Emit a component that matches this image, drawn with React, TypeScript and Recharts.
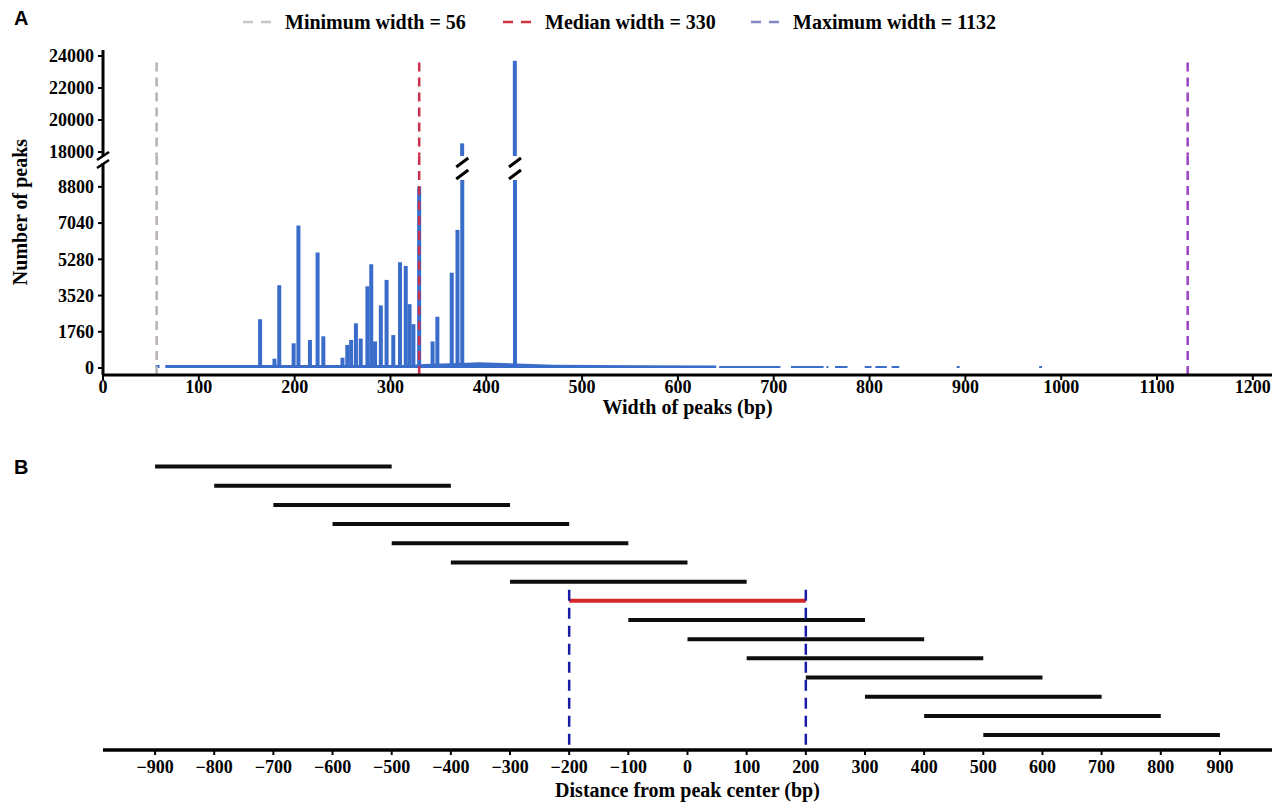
import { ComposedChart, Bar, Area, XAxis, YAxis, ReferenceLine, Cell } from 'recharts';

// ─── Data ─────────────────────────────────────────────────────────────────────

// Panel A: peak width histogram (bp → number of peaks)
const widthTicks = [0, 100, 200, 300, 400, 500, 600, 700, 800, 900, 1000, 1100, 1200];
const upperCountTicks = [18000, 20000, 22000, 24000];
const lowerCountTicks = [0, 1760, 3520, 5280, 7040, 8800];

const peakWidths = [164, 179, 184, 199, 204, 216, 224, 230, 250, 255, 259, 264, 269, 276, 280, 284, 290, 296, 303, 310, 316, 320, 324, 330, 344, 349, 364, 370, 375, 430];
const peakCounts = [2370, 450, 4020, 1200, 6920, 1360, 5610, 1540, 500, 1120, 1360, 2170, 1430, 3970, 5040, 1290, 3040, 4280, 1600, 5140, 4960, 3100, 2130, 8810, 1290, 2490, 4630, 6710, 18540, 23700];

// low "floor" of the histogram (null = no peaks of that width)
const baseWidths = [55, 59, 60, 65, 320, 335, 380, 392, 432, 470, 560, 640, 641, 643, 707, 709, 718, 752, 753, 755, 757, 759, 764, 777, 779, 795, 802, 804, 806, 818, 820, 823, 831, 833, 891, 894, 896, 977, 980];
const baseCounts = [150, 150, null, 140, 140, 200, 260, 280, 220, 160, 130, 120, null, 100, 100, null, 100, 100, null, 100, 100, null, 100, 100, null, 100, 100, null, 100, 100, null, 100, 100, null, 100, 100, null, 100, 100];

const markerNames = ['Minimum width = 56', 'Median width = 330', 'Maximum width = 1132'];
const markerWidths = [56, 330, 1132];
const markerLineColors = ['#b8b0b8', '#c8304c', '#9c42c2'];
const markerKeyColors = ['#c6c6c6', '#d0343f', '#8088c6'];

// Panel B: sliding windows around the peak center
const windowStarts = [-900, -800, -700, -600, -500, -400, -300, -200, -100, 0, 100, 200, 300, 400, 500];
const windowEnds = [-500, -400, -300, -200, -100, 0, 100, 200, 300, 400, 500, 600, 700, 800, 900];
const highlightedWindow = 7;
const distanceTicks = [-900, -800, -700, -600, -500, -400, -300, -200, -100, 0, 100, 200, 300, 400, 500, 600, 700, 800, 900];
const boundaryPositions = [-200, 200];

// ─── Styling ──────────────────────────────────────────────────────────────────

const FONT = "'Liberation Serif', 'Times New Roman', serif";
const SANS = "'Liberation Sans', Arial, sans-serif";
const BAR_BLUE = '#3a6cca';
const LOWER_PLOT_TOP = 156;
const LEGEND_LEFT = [243, 503, 751];

const tickStyle = { fill: '#000', fontSize: 18, fontWeight: 700, fontFamily: FONT };
const axisLineStyle = { stroke: '#000', strokeWidth: 3 };
const tickLineStyle = { stroke: '#000', strokeWidth: 2 };

const peakData = peakWidths.map((w, i) => ({ w, count: peakCounts[i] }));
const baseData = baseWidths.map((w, i) => ({ w, base: baseCounts[i] }));
const windowData = windowStarts.map((s, i) => ({ row: i, span: [s, windowEnds[i]] }));

const minus = (v: number) => (v < 0 ? `\u2212${-v}` : `${v}`);

// bars in the top (18000+) segment
function UpperPeakBar(props: any) {
  const { x, y, width, height, fill } = props;
  if (!(height > 0)) return null;
  return <rect x={x + width / 2 - 2} y={y} width={4} height={height} fill={fill} />;
}

// bars in the bottom segment; bars cut by the axis break get "//" marks
function LowerPeakBar(props: any) {
  const { x, y, width, height, fill, background } = props;
  if (!(height > 0)) return null;
  const cx = x + width / 2;
  const top = background && typeof background.y === 'number' ? background.y : LOWER_PLOT_TOP;
  if (y >= top) return <rect x={cx - 2} y={y} width={4} height={height} fill={fill} />;
  const bottom = y + height;
  const gap = 24;
  return (
    <g>
      <rect x={cx - 2} y={top + gap} width={4} height={bottom - top - gap} fill={fill} />
      <line x1={cx - 6} y1={top + 11} x2={cx + 6} y2={top + 2} stroke="#000" strokeWidth={3} />
      <line x1={cx - 6} y1={top + 23} x2={cx + 6} y2={top + 14} stroke="#000" strokeWidth={3} />
    </g>
  );
}

export default function App() {
  return (
    <div style={{ position: 'absolute', left: 0, top: 0, width: 1284, height: 809, background: '#fff', overflow: 'hidden' }}>
      {/* Legend */}
      {markerNames.map((name, i) => (
        <div
          key={name}
          style={{
            position: 'absolute', left: LEGEND_LEFT[i], top: 10, display: 'flex', alignItems: 'center',
            fontFamily: FONT, fontWeight: 700, fontSize: 20, lineHeight: '24px', color: '#000', whiteSpace: 'nowrap',
          }}
        >
          <svg width={28} height={6}>
            <line x1={0} y1={3} x2={28} y2={3} stroke={markerKeyColors[i]} strokeWidth={2.5} strokeDasharray="10 8" />
          </svg>
          <span style={{ marginLeft: 14 }}>{name}</span>
        </div>
      ))}

      {/* Panel A – upper segment of broken axis */}
      <div style={{ position: 'absolute', left: 0, top: 0 }}>
        <ComposedChart width={1284} height={172} data={peakData} margin={{ top: 50, right: 12, bottom: 16, left: 0 }}>
          <XAxis dataKey="w" type="number" domain={[0, 1220]} hide />
          <YAxis
            type="number"
            domain={[17750, 24375]}
            allowDataOverflow
            ticks={upperCountTicks}
            interval={0}
            width={103}
            tick={tickStyle}
            tickSize={5}
            tickMargin={4}
            axisLine={axisLineStyle}
            tickLine={tickLineStyle}
          />
          <Bar dataKey="count" fill={BAR_BLUE} barSize={4} shape={<UpperPeakBar />} isAnimationActive={false} />
          {markerWidths.map((v, i) => (
            <ReferenceLine
              key={v}
              segment={[{ x: v, y: 23600 }, { x: v, y: 17760 }]}
              stroke={markerLineColors[i]}
              strokeWidth={2.5}
              strokeDasharray="9 6"
            />
          ))}
        </ComposedChart>
      </div>

      {/* Panel A – lower segment */}
      <div style={{ position: 'absolute', left: 0, top: 140 }}>
        <ComposedChart width={1284} height={290} data={peakData} margin={{ top: 16, right: 12, bottom: 0, left: 0 }}>
          <XAxis
            dataKey="w"
            type="number"
            domain={[0, 1220]}
            ticks={widthTicks}
            interval={0}
            height={55}
            tick={tickStyle}
            tickSize={5}
            tickMargin={0}
            axisLine={axisLineStyle}
            tickLine={tickLineStyle}
            label={{ value: 'Width of peaks (bp)', position: 'insideBottom', offset: 16, fill: '#000', fontSize: 20, fontWeight: 700, fontFamily: FONT }}
          />
          <YAxis
            type="number"
            domain={[-340, 10300]}
            allowDataOverflow
            ticks={lowerCountTicks}
            interval={0}
            width={103}
            tick={tickStyle}
            tickSize={5}
            tickMargin={4}
            axisLine={axisLineStyle}
            tickLine={tickLineStyle}
          />
          <Area
            data={baseData}
            dataKey="base"
            type="linear"
            fill={BAR_BLUE}
            fillOpacity={1}
            stroke="none"
            dot={false}
            activeDot={false}
            isAnimationActive={false}
          />
          <Bar dataKey="count" fill={BAR_BLUE} barSize={4} shape={<LowerPeakBar />} isAnimationActive={false} />
          {markerWidths.map((v, i) => (
            <ReferenceLine key={v} x={v} stroke={markerLineColors[i]} strokeWidth={2.5} strokeDasharray="9 6" />
          ))}
        </ComposedChart>
      </div>

      {/* Panel B – windows */}
      <div style={{ position: 'absolute', left: 0, top: 430 }}>
        <ComposedChart width={1284} height={375} data={windowData} layout="vertical" margin={{ top: 17, right: 12, bottom: 0, left: 103 }}>
          <XAxis
            type="number"
            domain={[-988, 988]}
            ticks={distanceTicks}
            interval={0}
            height={55}
            tick={tickStyle}
            tickSize={5}
            tickMargin={5}
            tickFormatter={minus}
            axisLine={{ stroke: '#000', strokeWidth: 3.5 }}
            tickLine={tickLineStyle}
            label={{ value: 'Distance from peak center (bp)', position: 'insideBottom', offset: 8, fill: '#000', fontSize: 20, fontWeight: 700, fontFamily: FONT }}
          />
          <YAxis type="number" dataKey="row" domain={[-1, 14.8]} hide />
          <Bar dataKey="span" barSize={4} isAnimationActive={false}>
            {windowData.map((d) => (
              <Cell key={d.row} fill={d.row === highlightedWindow ? '#d42828' : '#0d0d0d'} />
            ))}
          </Bar>
          {boundaryPositions.map((v) => (
            <ReferenceLine
              key={v}
              segment={[{ x: v, y: 6.45 }, { x: v, y: 14.8 }]}
              stroke="#1a1aa8"
              strokeWidth={2.5}
              strokeDasharray="11 7"
            />
          ))}
        </ComposedChart>
      </div>

      {/* Panel letters, y title and axis break marks */}
      <svg width={1284} height={809} style={{ position: 'absolute', left: 0, top: 0, pointerEvents: 'none' }}>
        <text x={14} y={25} fontFamily={SANS} fontWeight={700} fontSize={20} fill="#000">A</text>
        <text x={14} y={474} fontFamily={SANS} fontWeight={700} fontSize={20} fill="#000">B</text>
        <text
          x={20}
          y={212}
          transform="rotate(-90 20 212)"
          textAnchor="middle"
          dominantBaseline="central"
          fontFamily={FONT}
          fontWeight={700}
          fontSize={20}
          fill="#000"
        >
          Number of peaks
        </text>
        <rect x={96} y={156} width={14} height={7} fill="#fff" />
        <line x1={97} y1={160} x2={109} y2={152} stroke="#000" strokeWidth={2.5} />
        <line x1={97} y1={168} x2={109} y2={160} stroke="#000" strokeWidth={2.5} />
      </svg>
    </div>
  );
}
